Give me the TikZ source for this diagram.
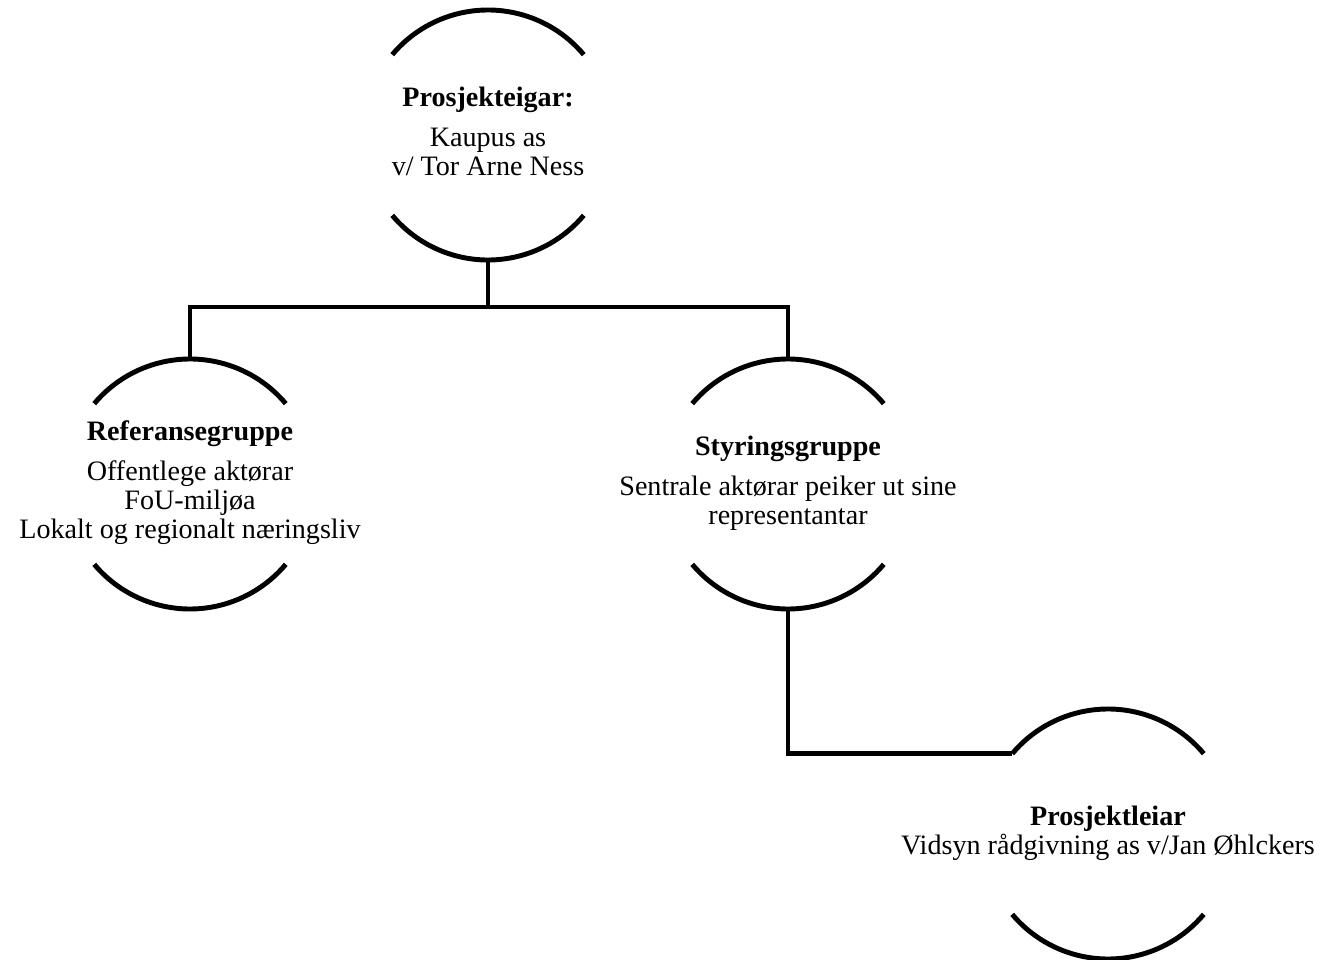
\documentclass[tikz,border=0pt]{standalone}
\usepackage{fontspec}
\setmainfont{Liberation Serif}
\usepackage{tikz}

\begin{document}
\begin{tikzpicture}
      \tikzstyle{cercle}=[circle, minimum size=5cm, inner sep=0pt, outer sep=0pt, font=\fontsize{16}{16.5}\selectfont]
      \tikzstyle{trait}=[line width=2.8pt]

      \useasboundingbox (0,0) rectangle (26.46,-19.2);

      \node[cercle] (Eigar) at (9.76,-2.7) {\makebox[0pt]{\begin{tabular}{@{}c@{}}\textbf{Prosjekteigar:}\\[6.3pt] Kaupus as\\ v/ Tor Arne Ness\end{tabular}}};
      \node[cercle] (Ref) at (3.8,-9.68) {\makebox[0pt]{\begin{tabular}{@{}c@{}}\textbf{Referansegruppe}\\[6.3pt] Offentlege aktørar\\ FoU-miljøa\\ Lokalt og regionalt næringsliv\end{tabular}}};
      \node[cercle] (Styr) at (15.76,-9.68) {\makebox[0pt]{\begin{tabular}{@{}c@{}}\textbf{Styringsgruppe}\\[6.3pt] Sentrale aktørar peiker ut sine\\ representantar\end{tabular}}};
      \node[cercle] (Leiar) at (22.16,-16.68) {\makebox[0pt]{\begin{tabular}{@{}c@{}}\textbf{Prosjektleiar}\\ Vidsyn rådgivning as v/Jan Øhlckers\end{tabular}}};
      \coordinate (Noeud) at (9.76,-6.14);

      \draw[trait] (Eigar.40) arc (40:140:2.5);
      \draw[trait] (Eigar.220) arc (220:320:2.5);
      \draw[trait] (Ref.40) arc (40:140:2.5);
      \draw[trait] (Ref.220) arc (220:320:2.5);
      \draw[trait] (Styr.40) arc (40:140:2.5);
      \draw[trait] (Styr.220) arc (220:320:2.5);
      \draw[trait] (Leiar.40) arc (40:140:2.5);
      \draw[trait] (Leiar.220) arc (220:320:2.5);

      \draw[trait] (Eigar.south)--(Noeud);
      \draw[trait] (Ref.north) |- (Noeud) -| (Styr.north);
      \draw[trait] (Styr.south) |- (Leiar.140);

    \end{tikzpicture}
\end{document}
